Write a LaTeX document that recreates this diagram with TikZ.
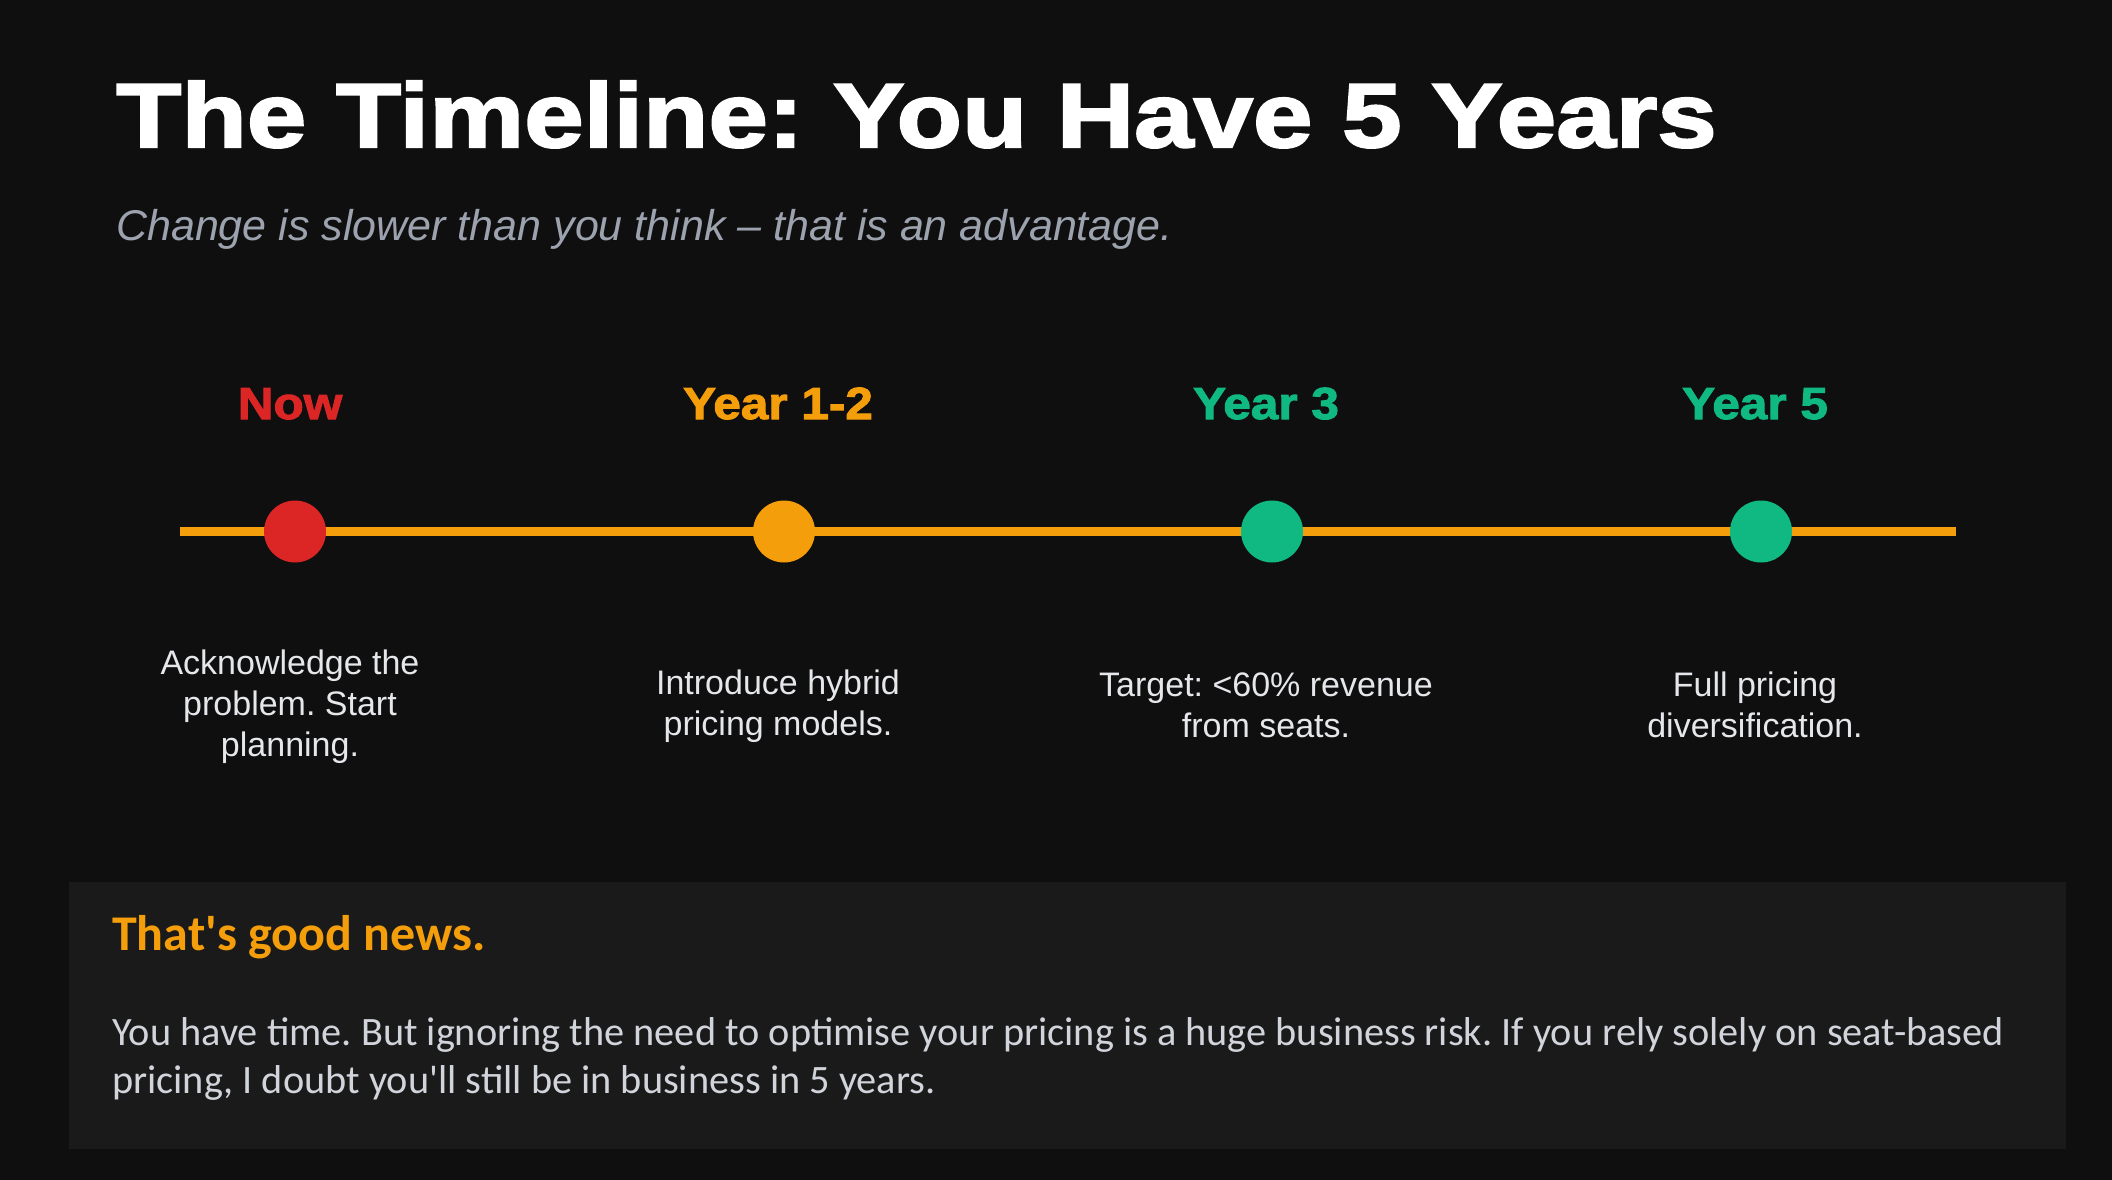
\documentclass[tikz,border=0pt]{standalone}
\usepackage{fontspec}
\setmainfont{Liberation Sans}
\newfontfamily\heavyfont{Liberation Sans}[BoldFeatures={FakeBold=2.4,FakeStretch=1.175}]
\newfontfamily\labelfont{Liberation Sans}[BoldFeatures={FakeBold=2.2,FakeStretch=1.1}]
\newfontfamily\calib{Carlito}
\frenchspacing
\definecolor{bg}{HTML}{0F0F0F}
\definecolor{boxbg}{HTML}{1A1A1A}
\definecolor{cred}{HTML}{DC2626}
\definecolor{corange}{HTML}{F59E0B}
\definecolor{cgreen}{HTML}{10B981}
\definecolor{subgrey}{HTML}{9CA3AF}
\definecolor{desctext}{HTML}{E5E7EB}
\definecolor{bodytext}{HTML}{D1D5DB}
\tikzset{
  dot/.style={circle, inner sep=0pt, minimum size=62pt, draw=none},
  phase/.style={anchor=base, inner sep=0pt, font=\labelfont\bfseries\fontsize{45}{50}\selectfont},
  desc/.style={anchor=center, align=center, inner sep=0pt, text=desctext, font=\fontsize{34}{41}\selectfont},
  bodyline/.style={anchor=base west, inner sep=0pt, text=bodytext, font=\calib\fontsize{40.3}{48}\selectfont}
}
\begin{document}
\begin{tikzpicture}[x=1pt,y=-1pt]
\fill[bg] (0,0) rectangle (2112,1180);
\useasboundingbox (0,0) rectangle (2112,1180);

\node[anchor=base west, inner sep=0pt, text=white, font=\heavyfont\bfseries\fontsize{91}{100}\selectfont] (title) at (116,147) {The Timeline: You Have 5 Years};
\node[anchor=base west, inner sep=0pt, text=subgrey, font=\itshape\fontsize{43}{50}\selectfont] (subtitle) at (116,240) {Change is slower than you think -- that is an advantage.};

\coordinate (lineL) at (180,531.5);
\coordinate (lineR) at (1956,531.5);
\draw[corange, line width=9pt] (lineL) -- (lineR);

\node[dot, fill=cred] (d1) at (295,531.5) {};
\node[dot, fill=corange] (d2) at (784,531.5) {};
\node[dot, fill=cgreen] (d3) at (1272,531.5) {};
\node[dot, fill=cgreen] (d4) at (1761,531.5) {};

\node[phase, text=cred] (p1) at (290,419) {Now};
\node[phase, text=corange] (p2) at (778,419) {Year 1-2};
\node[phase, text=cgreen] (p3) at (1266,419) {Year 3};
\node[phase, text=cgreen] (p4) at (1755,419) {Year 5};

\node[desc] (t1) at (290,707) {Acknowledge the\\problem. Start\\planning.};
\node[desc] (t2) at (778,706) {Introduce hybrid\\pricing models.};
\node[desc] (t3) at (1266,705) {Target: <60\% revenue\\from seats.};
\node[desc] (t4) at (1755,705) {Full pricing\\diversification.};

\node[fill=boxbg, draw=none, inner sep=0pt, minimum width=1997pt, minimum height=267pt, anchor=north west] (box) at (69,882) {};
\node[anchor=base west, inner sep=0pt, text=corange, font=\calib\bfseries\fontsize{50}{56}\selectfont] (head) at (112,950) {That's good news.};
\node[bodyline] (b1) at (112,1045) {You have time. But ignoring the need to optimise your pricing is a huge business risk. If you rely solely on seat-based};
\node[bodyline] (b2) at (112,1093) {pricing, I doubt you'll still be in business in 5 years.};
\end{tikzpicture}
\end{document}
